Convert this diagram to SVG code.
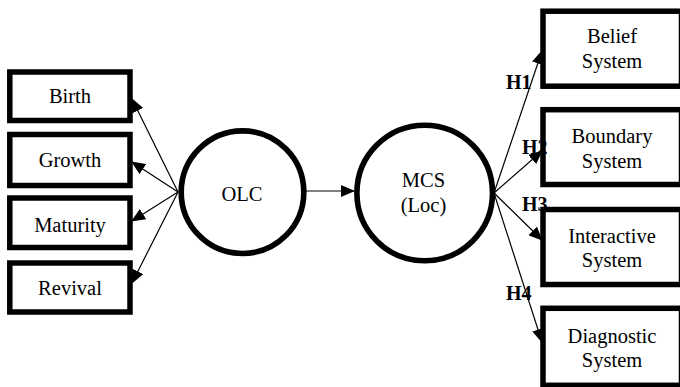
<svg xmlns="http://www.w3.org/2000/svg" width="680" height="387" viewBox="0 0 680 387">
<style>
.box{fill:#fff;stroke:#000;stroke-width:5.5}
.circ{fill:#fff;stroke:#000;stroke-width:5.6}
text{font-family:'Liberation Serif','Times New Roman',Tinos,'DejaVu Serif',serif;fill:#000}
.t{font-size:20.5px;text-anchor:middle}
.h{font-size:20px;font-weight:bold}
.c{stroke:#000;stroke-width:1.2;fill:none;marker-end:url(#ah)}
</style>
<defs>
<marker id="ah" viewBox="0 0 14 12" refX="13" refY="6" markerWidth="14" markerHeight="12" markerUnits="userSpaceOnUse" orient="auto">
<path d="M0,0 L14,6 L0,12 Z" fill="#000"/>
</marker>
</defs>
<rect width="680" height="387" fill="#fff"/>
<g id="connectors">
<line class="c" x1="178" y1="192" x2="132" y2="99"/>
<line class="c" x1="178" y1="192" x2="132" y2="162"/>
<line class="c" x1="178" y1="192" x2="132" y2="221"/>
<line class="c" x1="178" y1="192" x2="132" y2="283"/>
<line class="c" x1="306" y1="191" x2="354" y2="191"/>
<line class="c" x1="494" y1="193" x2="542" y2="51"/>
<line class="c" x1="494" y1="193" x2="542" y2="151"/>
<line class="c" x1="494" y1="193" x2="542" y2="240"/>
<line class="c" x1="494" y1="193" x2="542" y2="342"/>
</g>
<g id="birth"><rect class="box" x="9.8" y="72" width="120.2" height="48.5"/><text class="t" x="70" y="103.3" font-family="Liberation Serif, serif">Birth</text></g>
<g id="growth"><rect class="box" x="9.8" y="134.5" width="120.2" height="51"/><text class="t" x="70" y="166.7" font-family="Liberation Serif, serif">Growth</text></g>
<g id="maturity"><rect class="box" x="9.8" y="198" width="120.2" height="49.5"/><text class="t" x="70" y="231.7">Maturity</text></g>
<g id="revival"><rect class="box" x="9.8" y="263" width="120.2" height="49"/><text class="t" x="70" y="295">Revival</text></g>
<g id="olc"><circle class="circ" cx="242.5" cy="192.2" r="61.3"/><text class="t" x="242" y="200.5">OLC</text></g>
<g id="mcs"><circle class="circ" cx="424.7" cy="193" r="67.8"/><text class="t" x="423.5" y="186.7">MCS</text><text class="t" x="423.5" y="211.5">(Loc)</text></g>
<g id="belief"><rect class="box" x="543" y="11.2" width="138.5" height="75"/><text class="t" x="612" y="43.3">Belief</text><text class="t" x="612" y="68.3">System</text></g>
<g id="boundary"><rect class="box" x="543" y="109.7" width="138.5" height="74.8"/><text class="t" x="612" y="143.3">Boundary</text><text class="t" x="612" y="168.3">System</text></g>
<g id="interactive"><rect class="box" x="543" y="209.5" width="138.5" height="75"/><text class="t" x="612" y="242.7">Interactive</text><text class="t" x="612" y="266.7">System</text></g>
<g id="diagnostic"><rect class="box" x="543" y="308.3" width="138.5" height="77"/><text class="t" x="612" y="342.7">Diagnostic</text><text class="t" x="612" y="366.7">System</text></g>
<g id="labels">
<text class="h" x="506" y="89">H1</text>
<text class="h" x="522" y="154">H2</text>
<text class="h" x="522" y="211">H3</text>
<text class="h" x="506" y="300">H4</text>
</g>
</svg>
